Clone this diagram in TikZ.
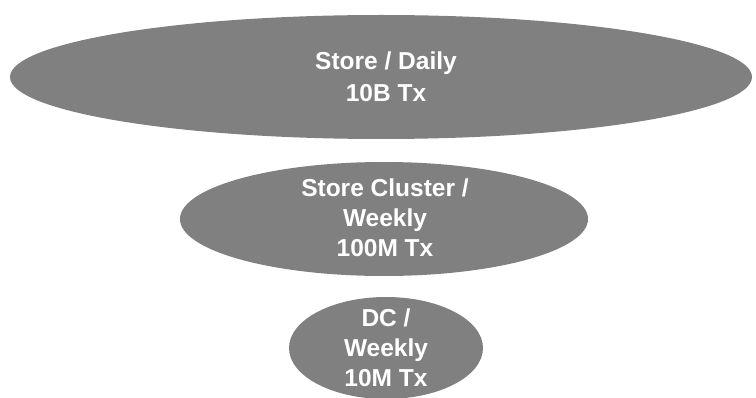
\documentclass[tikz,border=0pt]{standalone}
\usepackage{fontspec}
\setmainfont{Liberation Sans}
\definecolor{tiergray}{RGB}{128,128,128}
\tikzset{
  tier/.style={fill=tiergray},
  tiertext/.style={text=white, font=\bfseries\fontsize{24.5}{30}\selectfont, align=center, inner sep=0pt}
}
\begin{document}
\begin{tikzpicture}[x=1pt,y=-1pt]
\useasboundingbox (0,0) rectangle (756,398);
\coordinate (c1) at (381,77);
\coordinate (c2) at (384,219);
\coordinate (c3) at (386,348);
\fill[tier] (c1) ellipse [x radius=371, y radius=62];
\fill[tier] (c2) ellipse [x radius=204, y radius=57];
\fill[tier] (c3) ellipse [x radius=97, y radius=51];
\node[tiertext, font=\bfseries\fontsize{24.5}{32}\selectfont] (t1) at (386,77) {Store / Daily\\10B Tx};
\node[tiertext] (t2) at (385,218) {Store Cluster /\\Weekly\\100M Tx};
\node[tiertext] (t3) at (386,348) {DC /\\Weekly\\10M Tx};
\end{tikzpicture}
\end{document}
